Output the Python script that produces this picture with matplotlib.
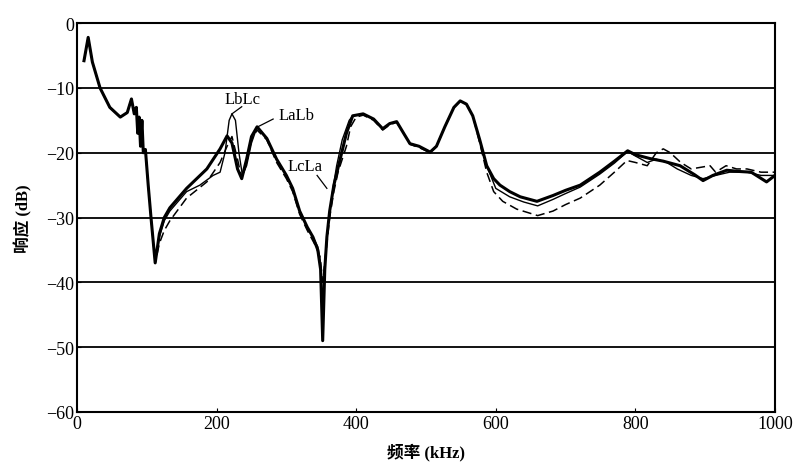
import matplotlib.pyplot as plt

plt.rcParams['font.family'] = ['Liberation Serif', 'Noto Sans CJK SC']
plt.rcParams['axes.unicode_minus'] = True

# common low-frequency part (all three curves coincide)
head_x = [10, 16, 22, 33, 47, 62, 72, 78, 82, 85, 87, 89, 91, 93, 95, 98, 102, 106, 112]
head_y = [-5.8, -2.2, -6, -10, -13, -14.5, -13.8, -11.7, -14, -13, -17, -14.5, -19, -15, -20, -19.5, -25, -30, -37]

# LaLb - thick solid
lalb_x = [118, 125, 133, 157, 186, 205, 215, 222, 230, 236, 243, 250, 258, 272, 286, 300, 309, 319, 330, 338,
          345, 349, 352, 355, 358, 362, 368, 377, 386, 395, 410, 425, 438, 448, 458, 468, 477, 490, 506, 515,
          527, 540, 549, 558, 567, 577, 587, 597, 606, 620, 635, 659, 682, 700, 721, 749, 770, 789, 800, 821,
          840, 864, 885, 897, 911, 931, 950, 966, 988, 1000]
lalb_y = [-32.5, -30, -28.5, -25.5, -22.5, -19.4, -17.4, -18.5, -22.5, -24, -21, -17.5, -16, -17.8, -21, -23.5, -25.5, -29, -31.5, -33,
          -35, -38, -49, -38, -33, -29, -25, -21, -17, -14.3, -14, -14.8, -16.3, -15.5, -15.2, -17, -18.6, -19, -19.9, -19,
          -16, -13, -12, -12.5, -14.3, -18, -22, -24, -25, -26, -26.8, -27.5, -26.6, -25.8, -25, -23, -21.3, -19.7, -20.3, -20.9,
          -21.3, -22, -23.4, -24.3, -23.5, -22.7, -22.9, -23, -24.5, -23.5]

# LbLc - thin solid
lblc_x = [118, 125, 133, 157, 176, 195, 205, 212, 218, 222, 227, 232, 237, 243, 250, 258, 272, 286, 300, 309,
          319, 330, 338, 345, 349, 352, 355, 360, 366, 372, 380, 390, 395, 410, 425, 438, 448, 458, 468, 477,
          490, 506, 515, 527, 540, 549, 558, 567, 577, 587, 600, 620, 640, 660, 682, 700, 721, 749, 770, 789,
          800, 817, 830, 845, 860, 880, 897, 915, 935, 960, 980, 1000]
lblc_y = [-33, -30.5, -29, -26, -25, -23.5, -23, -20, -15, -14, -15, -20, -23.5, -22, -18.5, -16, -17.8, -21, -23.5, -25.5,
          -29, -31.5, -33, -34.5, -37, -45, -37, -31, -26, -22, -18, -15, -14.3, -14, -14.8, -16.3, -15.5, -15.2, -17, -18.6,
          -19, -19.9, -19, -16, -13, -12, -12.5, -14.3, -18, -22, -25.5, -26.8, -27.6, -28.2, -27.2, -26.3, -25.3, -23.3, -21.6, -19.8,
          -20.5, -21.5, -21, -21.5, -22.5, -23.5, -24, -23.5, -23, -23, -23.5, -23.5]

# LcLa - dashed
lcla_x = [118, 125, 133, 157, 186, 205, 215, 222, 230, 236, 243, 250, 258, 272, 286, 300, 309, 319, 330, 340,
          348, 352, 356, 362, 368, 374, 380, 386, 392, 400, 410, 425, 438, 448, 458, 468, 477, 490, 506, 515,
          527, 540, 549, 558, 567, 577, 587, 597, 610, 630, 660, 682, 700, 721, 749, 770, 788, 800, 817, 830,
          840, 850, 865, 880, 907, 915, 930, 945, 960, 980, 1000]
lcla_y = [-34, -32, -30.5, -27, -24.5, -21.5, -19, -17.5, -21, -24, -21.5, -18, -16.5, -18, -21.5, -24, -26, -29.5, -32, -34,
          -36, -40, -36, -30, -26, -23, -21, -19, -16, -14.5, -14.2, -15, -16.5, -15.7, -15.3, -17, -18.7, -19.2, -20, -19,
          -16, -13, -12, -12.5, -14.3, -18.5, -23, -26, -27.5, -28.7, -29.7, -29, -28, -27, -25, -23, -21.2, -21.5, -22, -20,
          -19.4, -20, -21.5, -22.5, -22, -23, -22, -22.5, -22.5, -23, -23]

x_ticks = [0, 200, 400, 600, 800, 1000]
y_ticks = [0, -10, -20, -30, -40, -50, -60]

fig = plt.figure(figsize=(7.94, 4.64), dpi=100)
ax = fig.add_axes([0.097, 0.110, 0.879, 0.838])

for y in y_ticks[1:-1]:
    ax.axhline(y, color='black', lw=1.3, zorder=1)

ax.plot(head_x + lcla_x, head_y + lcla_y, color='black', lw=1.1, ls=(0, (6, 3)), zorder=2)
ax.plot(head_x + lblc_x, head_y + lblc_y, color='black', lw=1.0, zorder=3)
ax.plot(head_x + lalb_x, head_y + lalb_y, color='black', lw=2.2, zorder=4)

# curve labels with leader lines
ax.text(212, -11.7, 'LbLc', fontsize=12, va='center', ha='left')
ax.plot([236, 222], [-12.9, -14], color='black', lw=0.9)
ax.text(288, -14.2, 'LaLb', fontsize=12, va='center', ha='left')
ax.plot([281, 259], [-14.8, -16], color='black', lw=0.9)
ax.text(301, -22, 'LcLa', fontsize=12, va='center', ha='left')
ax.plot([344, 358], [-23.5, -25.5], color='black', lw=0.9)

ax.set_xlim(0, 1000)
ax.set_ylim(-60, 0)
ax.set_xticks(x_ticks)
ax.set_yticks(y_ticks)
ax.tick_params(direction='in', length=3, labelsize=13, pad=2)
for s in ax.spines.values():
    s.set_linewidth(1.5)

ax.set_xlabel('频率 (kHz)', fontsize=12, fontweight='bold', labelpad=8)
ax.set_ylabel('响应 (dB)', fontsize=12, fontweight='bold', labelpad=10)

fig.savefig('out.png', dpi=100)
